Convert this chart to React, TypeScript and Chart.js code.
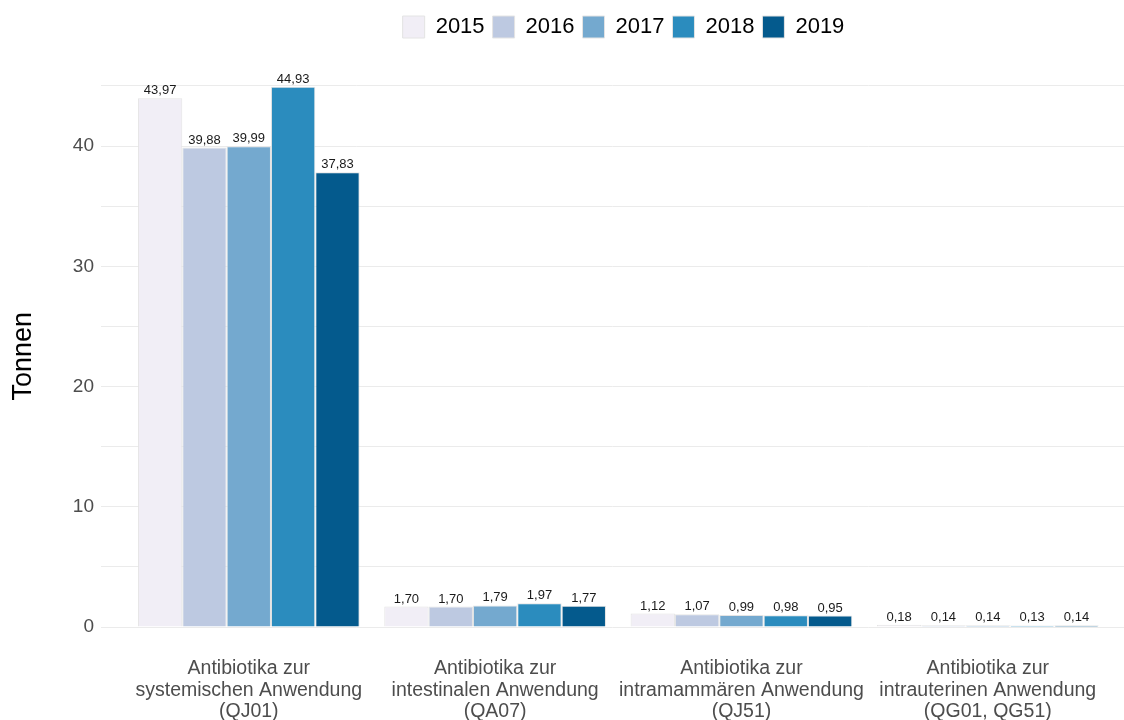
import React, { useEffect, useRef } from "react";
import { Chart, registerables } from "chart.js";

Chart.register(...registerables);

const categories: string[][] = [
  ["Antibiotika zur", "systemischen Anwendung", "(QJ01)"],
  ["Antibiotika zur", "intestinalen Anwendung", "(QA07)"],
  ["Antibiotika zur", "intramammären Anwendung", "(QJ51)"],
  ["Antibiotika zur", "intrauterinen Anwendung", "(QG01, QG51)"],
];
const years = ["2015", "2016", "2017", "2018", "2019"];
const values2015 = [43.97, 1.7, 1.12, 0.18];
const values2016 = [39.88, 1.7, 1.07, 0.14];
const values2017 = [39.99, 1.79, 0.99, 0.14];
const values2018 = [44.93, 1.97, 0.98, 0.13];
const values2019 = [37.83, 1.77, 0.95, 0.14];
const seriesValues = [values2015, values2016, values2017, values2018, values2019];
const colors = ["#f1eef6", "#bdc9e1", "#74a9cf", "#2b8cbe", "#045a8d"];
const yTickValues = [0, 5, 10, 15, 20, 25, 30, 35, 40, 45];
const yTitle = "Tonnen";

const FONT = '"Liberation Sans", Arial, Helvetica, sans-serif';
const fmt = (v: number) => v.toFixed(2).replace(".", ",");

const valueLabelPlugin = {
  id: "valueLabels",
  afterDatasetsDraw(chart: any) {
    const ctx = chart.ctx;
    ctx.save();
    ctx.font = `13px ${FONT}`;
    ctx.fillStyle = "#1a1a1a";
    ctx.textAlign = "center";
    ctx.textBaseline = "alphabetic";
    chart.data.datasets.forEach((_ds: any, i: number) => {
      const meta = chart.getDatasetMeta(i);
      meta.data.forEach((el: any, j: number) => {
        ctx.fillText(fmt(seriesValues[i][j]), el.x, el.y - 4);
      });
    });
    ctx.restore();
  },
};

const legendShiftPlugin = {
  id: "legendShift",
  afterLayout(chart: any) {
    const l = chart.legend;
    if (l) {
      l.left += 60;
      l.right += 60;
    }
  },
};

export default function App() {
  const ref = useRef<HTMLCanvasElement | null>(null);
  useEffect(() => {
    if (!ref.current) return;
    const chart = new Chart(ref.current, {
      type: "bar",
      data: {
        datasets: years.map((y, i) => ({
          label: y,
          data: seriesValues[i].map((v, j) => ({ x: j + 1, y: v })),
          backgroundColor: colors[i],
          borderColor: "#e4e4e4",
          borderWidth: 1,
          categoryPercentage: 0.9,
          barPercentage: 1,
        })),
      },
      options: {
        animation: false,
        responsive: true,
        maintainAspectRatio: false,
        layout: { padding: { top: 8, left: 0, right: -3, bottom: 0 } },
        plugins: {
          tooltip: { enabled: false },
          legend: {
            position: "top",
            labels: {
              boxWidth: 22,
              boxHeight: 22,
              padding: 8,
              color: "#000000",
              font: { family: FONT, size: 22 },
            },
          },
        },
        scales: {
          x: {
            type: "linear",
            min: 0.4,
            max: 4.553,
            offset: false,
            grid: { display: false },
            border: { display: false },
            afterBuildTicks: (scale: any) => {
              scale.ticks = categories.map((_c, i) => ({ value: i + 1 }));
            },
            afterFit: (scale: any) => {
              scale.height = 93;
            },
            ticks: {
              autoSkip: false,
              maxRotation: 0,
              minRotation: 0,
              padding: 23,
              color: "#4d4d4d",
              font: { family: FONT, size: 19.5, lineHeight: 1.1 },
              callback: (v: any) => categories[Math.round(Number(v)) - 1] ?? "",
            },
          },
          y: {
            type: "linear",
            min: 0,
            max: 48.16,
            grid: { color: "#ebebeb", lineWidth: 1, drawTicks: false },
            border: { display: false },
            afterBuildTicks: (scale: any) => {
              scale.ticks = yTickValues.map((v) => ({ value: v }));
            },
            afterFit: (scale: any) => {
              scale.width = 101;
            },
            title: {
              display: true,
              text: yTitle + "     ",
              color: "#000000",
              font: { family: FONT, size: 27 },
              padding: { top: 7, bottom: 0 },
            },
            ticks: {
              padding: 7,
              color: "#4d4d4d",
              font: { family: FONT, size: 19 },
              callback: (v: any) => (Number(v) % 10 === 0 ? String(v) : ""),
            },
          },
        },
      },
      plugins: [valueLabelPlugin, legendShiftPlugin],
    } as any);
    return () => chart.destroy();
  }, []);
  return (
    <div style={{ position: "fixed", left: 0, top: 0, width: 1124, height: 720, background: "#ffffff" }}>
      <canvas ref={ref} />
    </div>
  );
}
